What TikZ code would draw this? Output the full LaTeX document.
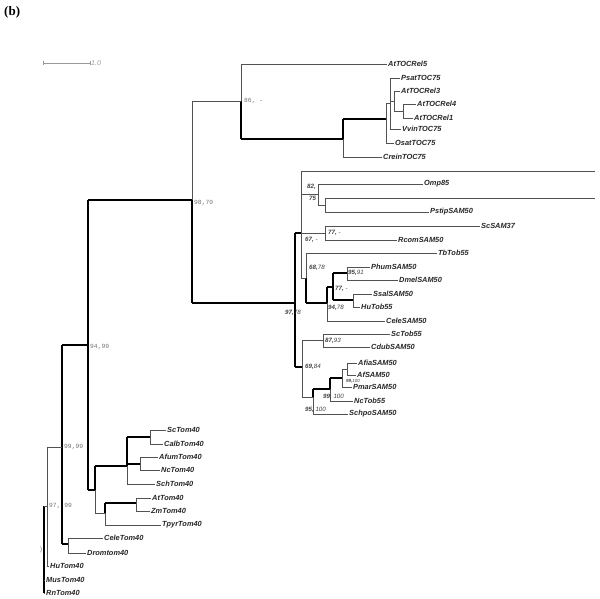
\documentclass[tikz,border=0pt]{standalone}
\usepackage{fontspec}
\setmainfont{Liberation Serif}
\setsansfont{Liberation Sans}
\newfontfamily\monof{Liberation Mono}
\begin{document}
\begin{tikzpicture}[x=1pt,y=-1pt,
  tn/.style={line width=0.65pt, draw=black!68},
  tk/.style={line width=1.4pt, draw=black},
  leaf/.style={anchor=west, inner sep=1pt, font=\sffamily\bfseries\itshape\fontsize{7.4}{8}\selectfont, text=black!85},
  bsg/.style={anchor=west, inner sep=0pt, font=\monof\fontsize{6.3}{7}\selectfont, text=black!55},
  bsi/.style={anchor=west, inner sep=0pt, font=\sffamily\itshape\fontsize{6.2}{7}\selectfont, text=black!75}]
\useasboundingbox (0,0) rectangle (600,599);
\node[anchor=north west, inner sep=0pt, font=\bfseries\fontsize{13}{14}\selectfont] (title) at (4,6) {(b)};
% scale bar
\coordinate (sb1) at (43,63); \coordinate (sb2) at (90,63);
\draw[black!40, line width=0.6pt] (sb1) -- (sb2);
\draw[black!40, line width=0.6pt] ([yshift=2pt]sb1) -- ([yshift=-2pt]sb1);
\draw[black!40, line width=0.6pt] ([yshift=2pt]sb2) -- ([yshift=-2pt]sb2);
\node[anchor=west, inner sep=1pt, font=\sffamily\itshape\fontsize{7}{8}\selectfont, text=black!40] (sblab) at (sb2) {1.0};
% leaves
\node[leaf] (AtTOCRel5) at (387,64) {AtTOCRel5};
\node[leaf] (PsatTOC75) at (400,78) {PsatTOC75};
\node[leaf] (AtTOCRel3) at (400,91) {AtTOCRel3};
\node[leaf] (AtTOCRel4) at (416,104) {AtTOCRel4};
\node[leaf] (AtTOCRel1) at (413,118) {AtTOCRel1};
\node[leaf] (VvinTOC75) at (401,129) {VvinTOC75};
\node[leaf] (OsatTOC75) at (394,143) {OsatTOC75};
\node[leaf] (CreinTOC75) at (382,157) {CreinTOC75};
\node[leaf] (Omp85) at (423,184) {Omp85};
\node[leaf] (PstipSAM50) at (429,212) {PstipSAM50};
\node[leaf] (ScSAM37) at (480,226) {ScSAM37};
\node[leaf] (RcomSAM50) at (397,240) {RcomSAM50};
\node[leaf] (TbTob55) at (437,253) {TbTob55};
\node[leaf] (PhumSAM50) at (370,267) {PhumSAM50};
\node[leaf] (DmelSAM50) at (398,280) {DmelSAM50};
\node[leaf] (SsalSAM50) at (372,294) {SsalSAM50};
\node[leaf] (HuTob55) at (360,307) {HuTob55};
\node[leaf] (CeleSAM50) at (385,321) {CeleSAM50};
\node[leaf] (ScTob55) at (390,334) {ScTob55};
\node[leaf] (CdubSAM50) at (370,347) {CdubSAM50};
\node[leaf] (AfiaSAM50) at (357,363) {AfiaSAM50};
\node[leaf] (AfSAM50) at (356,375) {AfSAM50};
\node[leaf] (PmarSAM50) at (352,387) {PmarSAM50};
\node[leaf] (NcTob55) at (353,401) {NcTob55};
\node[leaf] (SchpoSAM50) at (348,414) {SchpoSAM50};
\node[leaf] (ScTom40) at (166,430) {ScTom40};
\node[leaf] (CalbTom40) at (163,444) {CalbTom40};
\node[leaf] (AfumTom40) at (158,457) {AfumTom40};
\node[leaf] (NcTom40) at (160,470) {NcTom40};
\node[leaf] (SchTom40) at (155,484) {SchTom40};
\node[leaf] (AtTom40) at (151,498) {AtTom40};
\node[leaf] (ZmTom40) at (150,511) {ZmTom40};
\node[leaf] (TpyrTom40) at (161,525) {TpyrTom40};
\node[leaf] (CeleTom40) at (103,538) {CeleTom40};
\node[leaf] (Dromtom40) at (86,553) {Dromtom40};
\node[leaf] (HuTom40) at (49,566) {HuTom40};
\node[leaf] (MusTom40) at (45,580) {MusTom40};
\node[leaf] (RnTom40) at (45,593) {RnTom40};
\coordinate (E1) at (595,171);
\coordinate (E2) at (595,198);
% internal nodes
\coordinate (R) at (44,506);
\coordinate (N1) at (47,506);
\coordinate (N2) at (62,447);
\coordinate (N3) at (68,544);
\coordinate (N4) at (88,345);
\coordinate (N5) at (192,200);
\coordinate (N7) at (241,101);
\coordinate (N9) at (343,139);
\coordinate (Ta) at (386,119);
\coordinate (Tb) at (390,103);
\coordinate (Tc) at (394,101);
\coordinate (Td) at (403,111);
\coordinate (N8) at (295,303);
\coordinate (N17) at (301,233);
\coordinate (N18) at (318,194);
\coordinate (N19) at (325,205);
\coordinate (N21) at (325,233);
\coordinate (N22) at (306,278);
\coordinate (N24) at (327,303);
\coordinate (N25) at (333,287);
\coordinate (N26) at (347,273);
\coordinate (N27) at (353,300);
\coordinate (N11) at (302,367);
\coordinate (N12) at (323,340);
\coordinate (N13) at (313,397);
\coordinate (N14) at (330,389);
\coordinate (N15) at (342,378);
\coordinate (N16) at (347,369);
\coordinate (N6) at (95,490);
\coordinate (N28) at (127,466);
\coordinate (N30) at (150,437);
\coordinate (N31) at (140,464);
\coordinate (N32) at (105,513);
\coordinate (N33) at (136,503);
% verticals
\draw[tk] (R) -- (R |- RnTom40.west);
\draw[tn] (N1 |- N2) -- (N1 |- HuTom40.west);
\draw[tk] (N2 |- N4) -- (N2 |- N3);
\draw[tn] (N3 |- CeleTom40.west) -- (N3 |- Dromtom40.west);
\draw[tk] (N4 |- N5) -- (N4 |- N6);
\draw[tn] (N5 |- N7) -- (N5);
\draw[tk] (N5) -- (N5 |- N8);
\draw[tn] (N7 |- AtTOCRel5.west) -- (N7);
\draw[tk] (N7) -- (N7 |- N9);
\draw[tk] (N9 |- Ta) -- (N9);
\draw[tn] (N9) -- (N9 |- CreinTOC75.west);
\draw[tn] (Ta |- Tb) -- (Ta |- OsatTOC75.west);
\draw[tn] (Tb |- PsatTOC75.west) -- (Tb |- VvinTOC75.west);
\draw[tn] (Tc |- AtTOCRel3.west) -- (Tc |- Td);
\draw[tn] (Td |- AtTOCRel4.west) -- (Td |- AtTOCRel1.west);
\draw[tk] (N8 |- N17) -- (N8 |- N11);
\draw[tn] (N17 |- E1) -- (N17 |- N22);
\draw[tn] (N18 |- Omp85.west) -- (N18 |- N19);
\draw[tn] (N19 |- E2) -- (N19 |- PstipSAM50.west);
\draw[tn] (N21 |- ScSAM37.west) -- (N21 |- RcomSAM50.west);
\draw[tn] (N22 |- TbTob55.west) -- (N22);
\draw[tk] (N22) -- (N22 |- N24);
\draw[tk] (N24 |- N25) -- (N24);
\draw[tn] (N24) -- (N24 |- CeleSAM50.west);
\draw[tk] (N25 |- N26) -- (N25 |- N27);
\draw[tn] (N26 |- PhumSAM50.west) -- (N26 |- DmelSAM50.west);
\draw[tn] (N27 |- SsalSAM50.west) -- (N27 |- HuTob55.west);
\draw[tn] (N11 |- N12) -- (N11 |- N13);
\draw[tn] (N12 |- ScTob55.west) -- (N12 |- CdubSAM50.west);
\draw[tk] (N13 |- N14) -- (N13);
\draw[tn] (N13) -- (N13 |- SchpoSAM50.west);
\draw[tk] (N14 |- N15) -- (N14);
\draw[tn] (N14) -- (N14 |- NcTob55.west);
\draw[tn] (N15 |- N16) -- (N15 |- PmarSAM50.west);
\draw[tn] (N16 |- AfiaSAM50.west) -- (N16 |- AfSAM50.west);
\draw[tk] (N6 |- N28) -- (N6);
\draw[tn] (N6) -- (N6 |- N32);
\draw[tk] (N28 |- N30) -- (N28);
\draw[tn] (N28) -- (N28 |- SchTom40.west);
\draw[tn] (N30 |- ScTom40.west) -- (N30 |- CalbTom40.west);
\draw[tn] (N31 |- AfumTom40.west) -- (N31 |- NcTom40.west);
\draw[tk] (N32 |- N33) -- (N32);
\draw[tn] (N32) -- (N32 |- TpyrTom40.west);
\draw[tn] (N33 |- AtTom40.west) -- (N33 |- ZmTom40.west);
% horizontals
\draw[tn] (R) -- (N1);
\draw[tn] (R |- MusTom40.west) -- (MusTom40.west);
\draw[tn] (R |- RnTom40.west) -- (RnTom40.west);
\draw[tn] (N1 |- N2) -- (N2);
\draw[tn] (N1 |- HuTom40.west) -- (HuTom40.west);
\draw[tk] (N2 |- N4) -- (N4);
\draw[tk] (N2 |- N3) -- (N3);
\draw[tn] (N3 |- CeleTom40.west) -- (CeleTom40.west);
\draw[tn] (N3 |- Dromtom40.west) -- (Dromtom40.west);
\draw[tk] (N4 |- N5) -- (N5);
\draw[tk] (N4 |- N6) -- (N6);
\draw[tn] (N5 |- N7) -- (N7);
\draw[tk] (N5 |- N8) -- (N8);
\draw[tn] (N7 |- AtTOCRel5.west) -- (AtTOCRel5.west);
\draw[tk] (N7 |- N9) -- (N9);
\draw[tk] (N9 |- Ta) -- (Ta);
\draw[tn] (N9 |- CreinTOC75.west) -- (CreinTOC75.west);
\draw[tn] (Ta |- Tb) -- (Tb);
\draw[tn] (Ta |- OsatTOC75.west) -- (OsatTOC75.west);
\draw[tn] (Tb |- PsatTOC75.west) -- (PsatTOC75.west);
\draw[tn] (Tb |- Tc) -- (Tc);
\draw[tn] (Tb |- VvinTOC75.west) -- (VvinTOC75.west);
\draw[tn] (Tc |- AtTOCRel3.west) -- (AtTOCRel3.west);
\draw[tn] (Tc |- Td) -- (Td);
\draw[tn] (Td |- AtTOCRel4.west) -- (AtTOCRel4.west);
\draw[tn] (Td |- AtTOCRel1.west) -- (AtTOCRel1.west);
\draw[tk] (N8 |- N17) -- (N17);
\draw[tk] (N8 |- N11) -- (N11);
\draw[tn] (N17 |- E1) -- (E1);
\draw[tn] (N17 |- N18) -- (N18);
\draw[tn] (N17) -- (N21);
\draw[tn] (N17 |- N22) -- (N22);
\draw[tn] (N18 |- Omp85.west) -- (Omp85.west);
\draw[tn] (N18 |- N19) -- (N19);
\draw[tn] (N19 |- E2) -- (E2);
\draw[tn] (N19 |- PstipSAM50.west) -- (PstipSAM50.west);
\draw[tn] (N21 |- ScSAM37.west) -- (ScSAM37.west);
\draw[tn] (N21 |- RcomSAM50.west) -- (RcomSAM50.west);
\draw[tn] (N22 |- TbTob55.west) -- (TbTob55.west);
\draw[tk] (N22 |- N24) -- (N24);
\draw[tk] (N24 |- N25) -- (N25);
\draw[tn] (N24 |- CeleSAM50.west) -- (CeleSAM50.west);
\draw[tk] (N25 |- N26) -- (N26);
\draw[tk] (N25 |- N27) -- (N27);
\draw[tn] (N26 |- PhumSAM50.west) -- (PhumSAM50.west);
\draw[tn] (N26 |- DmelSAM50.west) -- (DmelSAM50.west);
\draw[tn] (N27 |- SsalSAM50.west) -- (SsalSAM50.west);
\draw[tn] (N27 |- HuTob55.west) -- (HuTob55.west);
\draw[tn] (N11 |- N12) -- (N12);
\draw[tn] (N11 |- N13) -- (N13);
\draw[tn] (N12 |- ScTob55.west) -- (ScTob55.west);
\draw[tn] (N12 |- CdubSAM50.west) -- (CdubSAM50.west);
\draw[tk] (N13 |- N14) -- (N14);
\draw[tn] (N13 |- SchpoSAM50.west) -- (SchpoSAM50.west);
\draw[tk] (N14 |- N15) -- (N15);
\draw[tn] (N14 |- NcTob55.west) -- (NcTob55.west);
\draw[tn] (N15 |- N16) -- (N16);
\draw[tn] (N15 |- PmarSAM50.west) -- (PmarSAM50.west);
\draw[tn] (N16 |- AfiaSAM50.west) -- (AfiaSAM50.west);
\draw[tn] (N16 |- AfSAM50.west) -- (AfSAM50.west);
\draw[tk] (N6 |- N28) -- (N28);
\draw[tn] (N6 |- N32) -- (N32);
\draw[tk] (N28 |- N30) -- (N30);
\draw[tk] (N28 |- N31) -- (N31);
\draw[tn] (N28 |- SchTom40.west) -- (SchTom40.west);
\draw[tn] (N30 |- ScTom40.west) -- (ScTom40.west);
\draw[tn] (N30 |- CalbTom40.west) -- (CalbTom40.west);
\draw[tn] (N31 |- AfumTom40.west) -- (AfumTom40.west);
\draw[tn] (N31 |- NcTom40.west) -- (NcTom40.west);
\draw[tk] (N32 |- N33) -- (N33);
\draw[tn] (N32 |- TpyrTom40.west) -- (TpyrTom40.west);
\draw[tn] (N33 |- AtTom40.west) -- (AtTom40.west);
\draw[tn] (N33 |- ZmTom40.west) -- (ZmTom40.west);
% support values
\node[bsg] (b9870) at (194,203) {98,70};
\node[bsg] (b86) at (244,101) {86, -};
\node[bsg] (b9499) at (90,347) {94,99};
\node[bsg] (b9999) at (64,447) {99,99};
\node[bsg] (b9799) at (49,506) {97, 99};
\node[bsg] (paren) at (39,550) {)};
\node[bsi] (b82) at (307,187) {\textbf{82,}};
\node[bsi] (b75) at (309,198) {\textbf{75}};
\node[bsi] (b67) at (305,240) {\textbf{67,} -};
\node[bsi] (b77a) at (328,233) {\textbf{77,} -};
\node[bsi] (b6878) at (309,268) {\textbf{68,}78};
\node[bsi] (b9591) at (348,273) {\textbf{95,}91};
\node[bsi] (b77b) at (335,289) {\textbf{77,} -};
\node[bsi] (b9478) at (328,308) {\textbf{94,}78};
\node[bsi] (b9778) at (285,313) {\textbf{97,}78};
\node[bsi] (b8793) at (325,341) {\textbf{87,}93};
\node[bsi] (b6984) at (305,367) {\textbf{69,}84};
\node[bsi, font=\sffamily\itshape\fontsize{4.5}{5}\selectfont] (b99100a) at (346,381) {\textbf{99,}100};
\node[bsi] (b99100b) at (323,397) {\textbf{99,} 100};
\node[bsi] (b95100) at (305,410) {\textbf{95,} 100};
\end{tikzpicture}
\end{document}
